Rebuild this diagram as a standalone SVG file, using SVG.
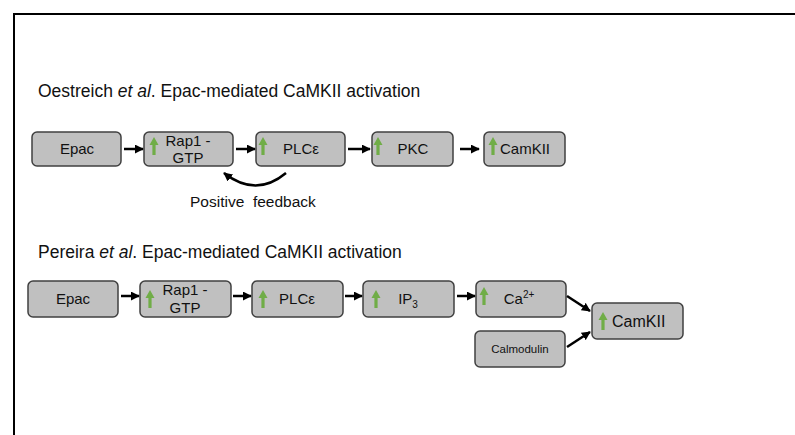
<svg xmlns="http://www.w3.org/2000/svg" width="795" height="435" viewBox="0 0 795 435">
<style>
.box{fill:#c0c0c0;stroke:#404040;stroke-width:1.5}
.t{font-family:"Liberation Sans",Arial,sans-serif;fill:#111}
.lbl{font-size:15px;text-anchor:middle}
.ttl{font-size:17.5px}
.con{stroke:#000;stroke-width:2.5;fill:none;marker-end:url(#ah)}
</style>
<defs>
<marker id="ah" viewBox="0 0 10 10" refX="9" refY="5" markerUnits="userSpaceOnUse" markerWidth="9" markerHeight="9" orient="auto">
<path d="M0,0 L10,5 L0,10 Z" fill="#000"/>
</marker>
<path id="up" d="M0,0 L4.5,8 L1.6,8 L1.6,18 L-1.6,18 L-1.6,8 L-4.5,8 Z" fill="#70ad47"/>
</defs>
<rect x="0" y="0" width="795" height="435" fill="#fff"/>
<path d="M14,436 L14,14 L796,14" fill="none" stroke="#000" stroke-width="2"/>

<text class="t ttl" x="38" y="97">Oestreich <tspan font-style="italic">et al</tspan>. Epac-mediated CaMKII activation</text>
<text class="t ttl" x="38" y="258">Pereira <tspan font-style="italic">et al</tspan>. Epac-mediated CaMKII activation</text>

<g id="r1-epac"><rect class="box" x="32" y="132" width="89" height="34" rx="5"/><text class="t lbl" x="77" y="154">Epac</text></g>
<g id="r1-rap1"><rect class="box" x="144" y="132" width="89" height="34" rx="5"/><use href="#up" x="154" y="137"/><text class="t lbl" x="188" y="146">Rap1 -</text><text class="t lbl" x="188" y="163">GTP</text></g>
<g id="r1-plce"><rect class="box" x="256" y="132" width="89" height="34" rx="5"/><use href="#up" x="263" y="137"/><text class="t lbl" x="301" y="154">PLCε</text></g>
<g id="r1-pkc"><rect class="box" x="372" y="132" width="81" height="34" rx="5"/><use href="#up" x="378" y="137"/><text class="t lbl" x="413" y="154">PKC</text></g>
<g id="r1-camkii"><rect class="box" x="484" y="132" width="81" height="34" rx="5"/><use href="#up" x="493" y="137"/><text class="t lbl" x="525" y="154">CamKII</text></g>

<g id="r2-epac"><rect class="box" x="28" y="281" width="90" height="36" rx="5"/><text class="t lbl" x="73" y="304">Epac</text></g>
<g id="r2-rap1"><rect class="box" x="140" y="281" width="91" height="36" rx="5"/><use href="#up" x="150" y="290"/><text class="t lbl" x="185" y="295">Rap1 -</text><text class="t lbl" x="185" y="313">GTP</text></g>
<g id="r2-plce"><rect class="box" x="252" y="281" width="91" height="36" rx="5"/><use href="#up" x="263" y="290"/><text class="t lbl" x="297" y="304">PLCε</text></g>
<g id="r2-ip3"><rect class="box" x="363" y="281" width="91" height="36" rx="5"/><use href="#up" x="376" y="290"/><text class="t lbl" x="408" y="304">IP<tspan font-size="10" dy="4">3</tspan></text></g>
<g id="r2-ca"><rect class="box" x="476" y="281" width="90" height="36" rx="5"/><use href="#up" x="484" y="287"/><text class="t lbl" x="519" y="304">Ca<tspan font-size="10" dy="-6">2+</tspan></text></g>
<g id="r2-calmodulin"><rect class="box" x="475" y="331" width="90" height="36" rx="5"/><text class="t" x="520" y="353" font-size="11.5" text-anchor="middle">Calmodulin</text></g>
<g id="r2-camkii"><rect class="box" x="592" y="303" width="91" height="36" rx="5"/><use href="#up" x="603" y="312"/><text class="t" x="612" y="327" font-size="16">CamKII</text></g>

<text class="t" x="190" y="207" font-size="15.5" xml:space="preserve">Positive  feedback</text>

<g id="connectors">
<line class="con" x1="124" y1="149" x2="143" y2="149"/>
<line class="con" x1="236" y1="149" x2="255" y2="149"/>
<line class="con" x1="348" y1="149" x2="370" y2="149"/>
<line class="con" x1="460" y1="149" x2="479" y2="149"/>
<path class="con" d="M286,173 Q256,198 224,173"/>
<line class="con" x1="121" y1="296" x2="139" y2="296"/>
<line class="con" x1="233" y1="296" x2="251" y2="296"/>
<line class="con" x1="345" y1="296" x2="362" y2="296"/>
<line class="con" x1="457" y1="296" x2="475" y2="296"/>
<line class="con" x1="567" y1="296" x2="590" y2="311"/>
<line class="con" x1="567" y1="347" x2="590" y2="332"/>
</g>
</svg>
